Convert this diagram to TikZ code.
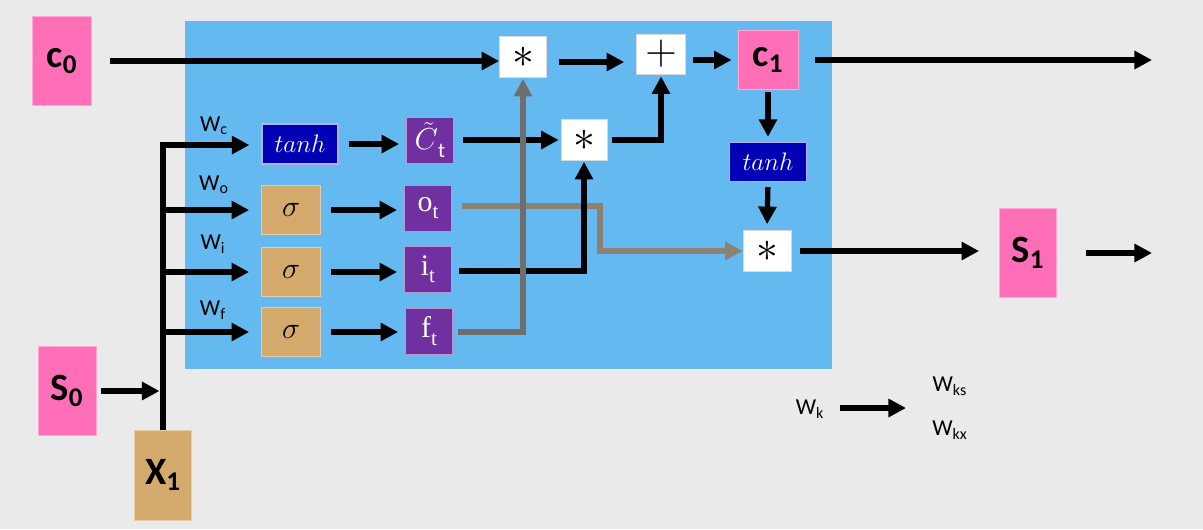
\documentclass[tikz,border=0pt]{standalone}
\usepackage{fontspec}
\setmainfont{Carlito}
\newfontfamily\gatefont{Liberation Serif}
\usetikzlibrary{arrows.meta}
\definecolor{bgc}{HTML}{EAEAEA}
\definecolor{cellblue}{HTML}{64B9F1}
\definecolor{pinkc}{HTML}{FF6FB7}
\definecolor{tanc}{HTML}{D3AA6C}
\definecolor{purplec}{HTML}{7030A0}
\definecolor{darkblue}{HTML}{0000B4}
\definecolor{grayline}{HTML}{6E6E6E}
\definecolor{brownline}{HTML}{8C8272}
\tikzset{
  arr/.style={line width=3pt,-{Triangle[length=10pt,width=10pt]}},
  plainline/.style={line width=3pt},
  pinkbox/.style={fill=pinkc,draw=pinkc!60!white,line width=0.5pt,inner sep=0pt,font=\fontsize{22}{24}\selectfont\bfseries},
  tanbox/.style={fill=tanc,draw=tanc!60!white,line width=0.5pt,inner sep=0pt,minimum width=1.18cm,minimum height=0.98cm,font=\fontsize{17}{19}\selectfont},
  gatebox/.style={fill=purplec,draw=purplec!50!white,line width=0.5pt,inner sep=0pt,minimum width=0.94cm,minimum height=0.92cm,text=white,font=\fontsize{17}{19}\selectfont},
  tanhbox/.style={fill=darkblue,draw=darkblue!30!white,line width=0.7pt,inner sep=0pt,text=white,font=\fontsize{14.5}{16}\selectfont},
  opbox/.style={fill=white,draw=white!85!black,line width=0.4pt,inner sep=0pt,minimum width=0.94cm,minimum height=0.82cm,font=\fontsize{24}{26}\selectfont},
  wlabel/.style={inner sep=0pt,font=\fontsize{13}{15}\selectfont}
}
\newcommand{\gsub}[1]{\raisebox{-0.25em}{\fontsize{12}{13}\selectfont #1}}
\begin{document}
\begin{tikzpicture}[x=0.02cm,y=-0.02cm]
\useasboundingbox (0,0) rectangle (1203,529);
\fill[bgc] (0,0) rectangle (1203,529);
% cell
\fill[cellblue] (185,21) rectangle (832,369);

% nodes
\node[pinkbox,minimum width=1.18cm,minimum height=1.78cm] (c0) at (62,61) {c$_{\mathbf 0}$};
\node[pinkbox,minimum width=1.2cm,minimum height=1.18cm] (c1) at (768,60) {c$_{\mathbf 1}$};
\node[pinkbox,minimum width=1.16cm,minimum height=1.78cm] (s0) at (67,391) {S$_{\mathbf 0}$};
\node[pinkbox,minimum width=1.14cm,minimum height=1.78cm] (s1) at (1028,253) {S$_{\mathbf 1}$};
\node[tanbox,minimum width=1.14cm,minimum height=1.8cm,font=\fontsize{22}{24}\selectfont\bfseries] (x1) at (163,475) {X$_{\mathbf 1}$};

\node[opbox] (m1) at (523,57) {$*$};
\node[opbox,minimum width=0.98cm,minimum height=0.8cm,font=\fontsize{26}{28}\selectfont] (plus) at (661,54) {$+$};
\node[opbox,minimum width=0.92cm] (m2) at (584,140) {$*$};
\node[opbox,minimum width=0.96cm] (m3) at (767,251) {$*$};

\node[tanhbox,minimum width=1.52cm,minimum height=0.8cm] (th1) at (300,144) {$tanh$};
\node[tanhbox,minimum width=1.54cm,minimum height=0.78cm] (th2) at (768,162) {$tanh$};

\node[tanbox] (so) at (291,210) {$\sigma$};
\node[tanbox] (si) at (291,272) {$\sigma$};
\node[tanbox] (sf) at (291,332) {$\sigma$};

\node[gatebox,minimum height=0.92cm] (ct) at (430,140) {$\tilde{C}$\gsub{t}};
\node[gatebox] (ot) at (428,208) {\gatefont o\gsub{t}};
\node[gatebox] (it) at (428,269) {\gatefont i\gsub{t}};
\node[gatebox] (ft) at (429,331) {\gatefont f\gsub{t}};

% labels
\node[wlabel] (wc) at (214,126) {W$_{\mathrm{c}}$};
\node[wlabel] (wo) at (214,185) {W$_{\mathrm{o}}$};
\node[wlabel] (wi) at (213,244) {W$_{\mathrm{i}}$};
\node[wlabel] (wf) at (213,310) {W$_{\mathrm{f}}$};
\node[wlabel] (wk) at (810,409) {W$_{\mathrm{k}}$};
\node[wlabel] (wks) at (950,386) {W$_{\mathrm{ks}}$};
\node[wlabel] (wkx) at (950,430) {W$_{\mathrm{kx}}$};

% coordinates
\coordinate (out1) at (1152,62);
\coordinate (out2) at (1152,253);
\coordinate (vtop) at (163,145);
\coordinate (vjoin) at (163,391);
\coordinate (wka) at (840,408);
\coordinate (wkb) at (906,408);

% input bus
\draw[plainline] (x1.north) -- ([yshift=1.5pt]vtop);
\draw[arr] (vtop) -- ([xshift=-0.24cm]vtop -| th1.west);
\draw[arr] (163,210) -- ([xshift=-0.24cm]so.west);
\draw[arr] (163,272) -- ([xshift=-0.24cm]si.west);
\draw[arr] (163,332) -- ([xshift=-0.24cm]sf.west);
\draw[arr,shorten <=0.1cm] (s0.east) -- ([xshift=-2pt]vjoin);

% sigma -> gates
\draw[arr,shorten <=0.2cm,shorten >=0.14cm] (th1.east) -- (th1.east -| ct.west);
\draw[arr,shorten <=0.2cm,shorten >=0.14cm] (so.east) -- (so.east -| ot.west);
\draw[arr,shorten <=0.2cm,shorten >=0.14cm] (si.east) -- (si.east -| it.west);
\draw[arr,shorten <=0.2cm,shorten >=0.14cm] (sf.east) -- (sf.east -| ft.west);

% cell state path
\draw[arr,shorten <=0.36cm] (c0.east) -- (c0.east -| m1.west);
\draw[arr,shorten <=0.24cm,shorten >=0.24cm] ([yshift=-0.1cm]m1.east) -- ([yshift=-0.1cm]m1.east -| plus.west);
\draw[arr,shorten <=0.14cm,shorten >=0.12cm] (plus.east |- c1.west) -- (c1.west);
\draw[arr,shorten <=0.34cm] (c1.east) -- (c1.east -| out1);
\draw[arr,shorten <=0.04cm,shorten >=0.1cm] (c1.south) -- (th2.north);
\draw[arr,shorten <=0.1cm,shorten >=0.12cm] (th2.south) -- (m3.north);
\draw[arr,shorten <=0.18cm,shorten >=0.4cm] (m3.east) -- (m3.east -| s1.west);
\draw[arr,shorten <=0.58cm] (s1.east) -- (s1.east -| out2);

% Ct -> m2 -> plus
\draw[arr,shorten <=0.18cm,shorten >=0.04cm] (ct.east) -- (m2.west);
\draw[arr,shorten <=0.1cm,shorten >=0.04cm] (m2.east) -| (plus.south);

% gates
\draw[line width=3pt,brownline,-{Triangle[length=10pt,width=10pt]}] ([xshift=0.2cm,yshift=0.04cm]ot.east) -- ++(138,0) |- (m3.west);
\draw[arr,shorten <=0.14cm,shorten >=0.02cm] ([yshift=-0.04cm]it.east) -| (m2.south);
\draw[line width=3pt,grayline,-{Triangle[length=10pt,width=10pt]},shorten <=0.1cm,shorten >=0.02cm] ([yshift=-0.02cm]ft.east) -| (m1.south);

% Wk
\draw[arr] (wka) -- (wkb);
\end{tikzpicture}
\end{document}
